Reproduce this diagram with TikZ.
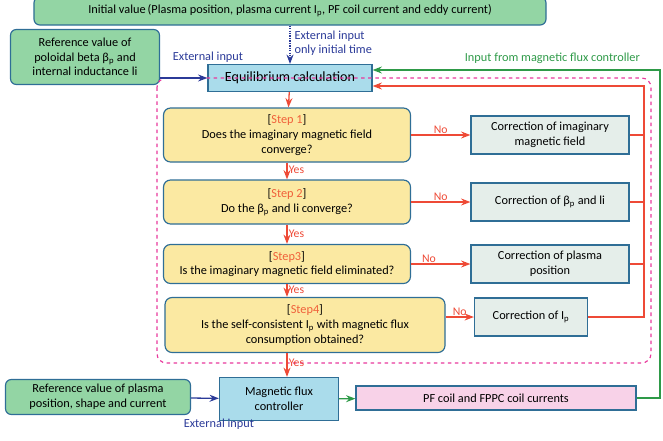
\documentclass[tikz,border=0pt]{standalone}
\usepackage{fontspec}
\setmainfont{Carlito}
\usetikzlibrary{arrows.meta, positioning, calc}
\definecolor{gfill}{HTML}{93D5A4}
\definecolor{bfill}{HTML}{AADCEB}
\definecolor{yfill}{HTML}{FBE9A2}
\definecolor{cfill}{HTML}{E5EEEA}
\definecolor{pfill}{HTML}{F8D2E8}
\definecolor{edge}{HTML}{2F6E96}
\definecolor{redl}{HTML}{EE4A36}
\definecolor{stepc}{HTML}{F0603A}
\definecolor{magd}{HTML}{E8399C}
\definecolor{blul}{HTML}{2B3A98}
\definecolor{grnl}{HTML}{2E9A48}
\begin{document}
\begin{tikzpicture}[x=0.03cm, y=-0.03cm,
        base/.style={draw=edge, line width=1pt, align=center, font=\fontsize{10.5}{12.5}\selectfont, inner sep=1pt},
        gbox/.style={base, fill=gfill, rounded corners=5pt},
        bbox/.style={base, fill=bfill},
        stepbox/.style={base, fill=yfill, rounded corners=6pt, minimum width=7.41cm},
        corr/.style={base, fill=cfill, minimum width=4.74cm, minimum height=1.14cm},
        red arrow/.style={->, >=Stealth, line width=1.1pt, draw=redl},
        lbl/.style={font=\fontsize{10}{11}\selectfont, text=redl, inner sep=1pt}
    ]
    \useasboundingbox (0,0) rectangle (663,440);

    % Top inputs
    \node[gbox, minimum width=15.36cm, minimum height=0.84cm] (init) at (290,11)
        {Initial value\,(Plasma position, plasma current I$_\mathrm{p}$, PF coil current and eddy current)};
    \node[gbox, minimum width=4.47cm, minimum height=1.65cm] (refa) at (85,57)
        {Reference value of\\poloidal beta β\textsubscript{p} and\\internal inductance li};
    \node[bbox, font=\fontsize{12}{14}\selectfont, minimum width=4.92cm, minimum height=0.81cm] (eq) at (290,78) {Equilibrium calculation};

    % Loop region
    \draw[magd, line width=1pt, dashed, rounded corners=8pt] (157,78) rectangle (651,363);

    % Steps
    \node[stepbox, minimum height=1.62cm] (s1) at (287,135)
        {[\textcolor{stepc}{Step 1}]\\Does the imaginary magnetic field\\converge?};
    \node[stepbox, minimum height=1.32cm] (s2) at (287,202)
        {[\textcolor{stepc}{Step 2}]\\Do the β\textsubscript{p} and li converge?};
    \node[stepbox, minimum height=1.17cm] (s3) at (287,264)
        {[\textcolor{stepc}{Step3}]\\Is the imaginary magnetic field eliminated?};
    \node[stepbox, minimum width=8.4cm, minimum height=1.65cm] (s4) at (305,325)
        {[\textcolor{stepc}{Step4}]\\Is the self-consistent I\textsubscript{p} with magnetic flux\\consumption obtained?};

    % Corrections
    \node[corr] (c1) at (550,135) {Correction of imaginary\\magnetic field};
    \node[corr] (c2) at (550,202) {Correction of β\textsubscript{p} and li};
    \node[corr] (c3) at (550,264) {Correction of plasma\\position};
    \node[corr, minimum width=3.39cm] (c4) at (531,317) {Correction of I\textsubscript{p}};

    % Bottom row
    \node[gbox, minimum width=5.55cm, minimum height=1.05cm] (refb) at (98,397)
        {Reference value of plasma\\position, shape and current};
    \node[bbox, minimum width=3.57cm, minimum height=1.29cm] (mfc) at (279,399) {Magnetic flux\\controller};
    \node[base, fill=pfill, minimum width=8.4cm, minimum height=0.72cm] (pf) at (496,398) {PF coil and FPPC coil currents};

    \coordinate (fb) at (644,86);
    \coordinate (gr) at (660,70);

    % Yes path
    \draw[red arrow] (eq) -- (s1);
    \draw[red arrow] (s1) -- (s2) node[lbl, pos=0.45, right] {Yes};
    \draw[red arrow] (s2) -- (s3) node[lbl, pos=0.45, right] {Yes};
    \draw[red arrow] (s3.south) -- (s3.south |- s4.north) node[lbl, pos=0.45, right] {Yes};
    \draw[red arrow] (s4.south -| s3) -- (s3 |- mfc.north) node[lbl, pos=0.4, right] {Yes};

    % No path
    \draw[red arrow] (s1.east |- c1) -- (c1.west) node[lbl, midway, above] {No};
    \draw[red arrow] (s2.east) -- (c2.west) node[lbl, midway, above] {No};
    \draw[red arrow] (s3.east) -- (c3.west) node[lbl, pos=0.3, above] {No};
    \draw[red arrow] (s4.east |- c4) -- (c4.west) node[lbl, midway, above] {No};

    % Feedback
    \draw[redl, line width=1.1pt] (c1.east) -| (fb);
    \draw[redl, line width=1.1pt] (c2.east) -| (fb);
    \draw[redl, line width=1.1pt] (c3.east) -| (fb);
    \draw[red arrow] (c4.east) -| (fb) -- (fb -| eq.east);
    \draw[->, >=Stealth, line width=1.1pt, grnl] (pf.east) -| (gr) -- (gr -| eq.east);
    \node[font=\fontsize{10.5}{12}\selectfont, text=grnl, anchor=east] (fbl) at (644,58) {Input from magnetic flux controller};

    % External inputs
    \draw[->, >=Stealth, line width=1.1pt, blul, densely dotted] (init.south -| eq) -- (eq.north)
        node[pos=0.45, right, align=left, font=\fontsize{10.5}{12}\selectfont, text=blul] {External input\\only initial time};
    \draw[->, >=Stealth, line width=1.1pt, blul] (refa.east |- eq) -- (eq.west);
    \node[font=\fontsize{10.5}{12}\selectfont, text=blul] (exta) at (208,57) {External input};
    \draw[->, >=Stealth, line width=1.1pt, blul] (refb) -- (mfc)
        node[pos=1, below=14pt, font=\fontsize{10.5}{12}\selectfont, text=blul] {External input};
    \draw[->, >=Stealth, line width=1.1pt, grnl] (mfc) -- (pf);
\end{tikzpicture}
\end{document}
